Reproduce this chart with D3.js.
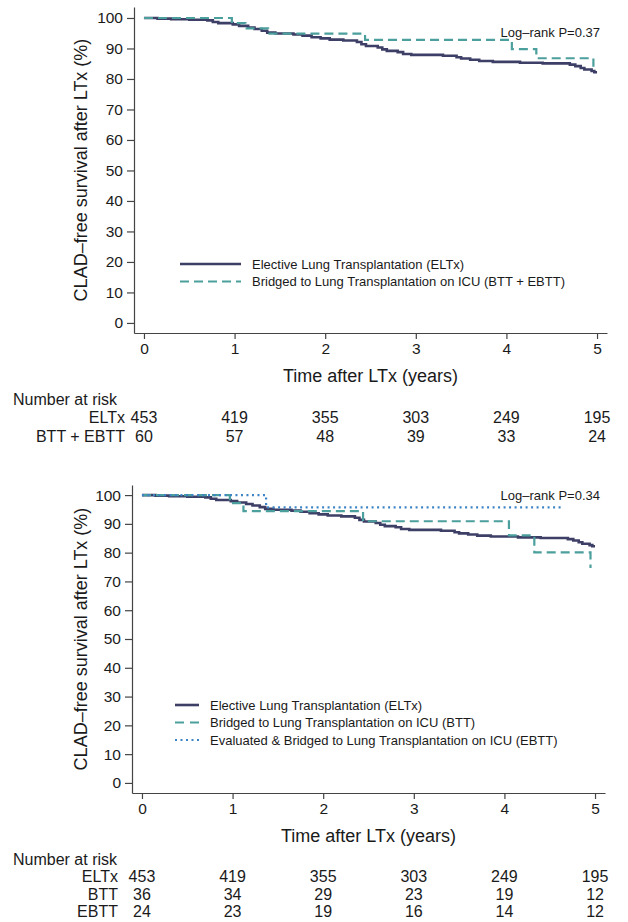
<!DOCTYPE html>
<html>
<head>
<meta charset="utf-8">
<script src="https://cdn.jsdelivr.net/npm/d3@7"></script>
<style>
  body { margin: 0; background: #fff; }
  svg { display: block; font-family: "Liberation Sans", Arial, sans-serif; }
  .axis path, .axis line { stroke: #444; stroke-width: 1.2; }
  .axis text { font-size: 15.5px; fill: #1a1a1a; }
</style>
</head>
<body>
<div id="chart"></div>
<script>
// tick labels
const xYears = [0, 1, 2, 3, 4, 5];
const yPercents = [0, 10, 20, 30, 40, 50, 60, 70, 80, 90, 100];

// Elective LTx (same curve in both panels)
const eltxTime = [0, 0.15, 0.3, 0.5, 0.7, 0.76, 0.82, 0.98, 1.05, 1.15, 1.22, 1.3, 1.36, 1.45, 1.65, 1.75, 1.85, 1.95, 2.05, 2.2, 2.35, 2.4, 2.45, 2.58, 2.63, 2.68, 2.8, 2.86, 2.95, 3.3, 3.45, 3.5, 3.6, 3.7, 3.85, 4.15, 4.4, 4.7, 4.76, 4.82, 4.86, 4.94, 4.97, 5.0];
const eltxSurv = [100, 99.8, 99.6, 99.4, 99.2, 98.7, 98.3, 97.9, 97.4, 96.9, 96.4, 95.8, 95.2, 94.9, 94.6, 94.2, 93.7, 93.3, 92.9, 92.6, 92.1, 91.4, 90.8, 90.3, 89.7, 89.2, 88.8, 88.2, 87.9, 87.6, 87.1, 86.7, 86.3, 85.9, 85.6, 85.3, 85.1, 84.7, 84.2, 83.6, 83.1, 82.6, 82.2, 82.2];

// BTT + EBTT combined (top panel)
const bttEbttTime = [0, 0.97, 1.12, 1.37, 2.44, 4.06, 4.33, 4.96, 4.96];
const bttEbttSurv = [100, 98.3, 96.6, 94.9, 92.8, 89.8, 86.8, 84.0, 84.0];

// BTT and EBTT separately (bottom panel)
const bttTime = [0, 0.97, 1.12, 2.44, 4.05, 4.33, 4.95, 4.95];
const bttSurv = [100, 97.2, 94.4, 90.9, 86.0, 80.1, 74.7, 74.7];
const ebttTime = [0, 1.37, 4.63];
const ebttSurv = [100, 95.7, 95.7];

// number at risk
const riskEltx = [453, 419, 355, 303, 249, 195];
const riskBttEbtt = [60, 57, 48, 39, 33, 24];
const riskBtt = [36, 34, 29, 23, 19, 12];
const riskEbtt = [24, 23, 19, 16, 14, 12];

const colors = { eltx: "#3d3f66", btt: "#4b9f9c", ebtt: "#3c84c6" };

const svg = d3.select("#chart").append("svg")
  .attr("width", 628)
  .attr("height", 922);

const toPoints = (t, s) => t.map((d, i) => [d, s[i]]);

function panel(opt) {
  const x = d3.scaleLinear().domain([-0.11, 5.11]).range(opt.xRange);
  const y = d3.scaleLinear().domain(opt.yDomain).range(opt.yRange);
  const g = svg.append("g");

  g.append("g")
    .attr("class", "axis")
    .attr("transform", `translate(${opt.xRange[0]},0)`)
    .call(d3.axisLeft(y).tickValues(yPercents).tickFormat(d3.format("d"))
      .tickSize(7).tickSizeOuter(0).tickPadding(4));

  g.append("g")
    .attr("class", "axis")
    .attr("transform", `translate(0,${opt.yRange[0]})`)
    .call(d3.axisBottom(x).tickValues(xYears).tickFormat(d3.format("d"))
      .tickSize(6).tickSizeOuter(0).tickPadding(4));

  g.append("text")
    .attr("transform", `translate(81,${(opt.yRange[0] + opt.yRange[1]) / 2}) rotate(-90)`)
    .attr("text-anchor", "middle")
    .attr("dy", "0.35em")
    .attr("font-size", 18)
    .attr("fill", "#1a1a1a")
    .text("CLAD\u2013free survival after LTx (%)");

  g.append("text")
    .attr("x", (opt.xRange[0] + opt.xRange[1]) / 2)
    .attr("y", opt.yRange[0] + 43)
    .attr("text-anchor", "middle")
    .attr("dy", "0.35em")
    .attr("font-size", 18)
    .attr("fill", "#1a1a1a")
    .text("Time after LTx (years)");

  const line = d3.line()
    .x((d) => x(d[0]))
    .y((d) => y(d[1]))
    .curve(d3.curveStepAfter);

  opt.series.forEach((s) => {
    g.append("path")
      .datum(toPoints(s.time, s.surv))
      .attr("fill", "none")
      .attr("stroke", s.color)
      .attr("stroke-width", s.width)
      .attr("stroke-dasharray", s.dash)
      .attr("d", line);
  });

  g.append("text")
    .attr("x", 600)
    .attr("y", opt.pY)
    .attr("text-anchor", "end")
    .attr("dy", "0.35em")
    .attr("font-size", 13)
    .attr("fill", "#1a1a1a")
    .text(opt.pText);

  // legend
  opt.series.forEach((s, i) => {
    const ly = opt.legend.y + i * opt.legend.step;
    g.append("line")
      .attr("x1", opt.legend.x1).attr("x2", opt.legend.x2)
      .attr("y1", ly).attr("y2", ly)
      .attr("stroke", s.color)
      .attr("stroke-width", s.width)
      .attr("stroke-dasharray", s.legendDash || s.dash);
    g.append("text")
      .attr("x", opt.legend.tx)
      .attr("y", ly)
      .attr("dy", "0.35em")
      .attr("font-size", 13)
      .attr("fill", "#1a1a1a")
      .text(s.label);
  });

  // number at risk table
  g.append("text")
    .attr("x", 13)
    .attr("y", opt.risk.y)
    .attr("dy", "0.35em")
    .attr("font-size", 16)
    .attr("fill", "#1a1a1a")
    .text("Number at risk");

  opt.risk.rows.forEach((r, i) => {
    const ry = opt.risk.y + (i + 1) * opt.risk.step;
    g.append("text")
      .attr("x", opt.risk.labelX)
      .attr("y", ry)
      .attr("dy", "0.35em")
      .attr("text-anchor", "end")
      .attr("font-size", 16)
      .attr("fill", "#1a1a1a")
      .text(r.label);
    g.selectAll(null)
      .data(r.values)
      .join("text")
      .attr("x", (d, j) => x(xYears[j]))
      .attr("y", ry)
      .attr("dy", "0.35em")
      .attr("text-anchor", "middle")
      .attr("font-size", 16)
      .attr("fill", "#1a1a1a")
      .text((d) => d);
  });
}

panel({
  xRange: [134, 607],
  yDomain: [-3.3, 103.6],
  yRange: [333, 7],
  pY: 32,
  pText: "Log\u2013rank P=0.37",
  series: [
    { time: eltxTime, surv: eltxSurv, color: colors.eltx, width: 2.6, dash: null,
      label: "Elective Lung Transplantation (ELTx)" },
    { time: bttEbttTime, surv: bttEbttSurv, color: colors.btt, width: 2.2, dash: "9,5",
      label: "Bridged to Lung Transplantation on ICU (BTT + EBTT)" },
  ],
  legend: { x1: 180, x2: 241, tx: 252, y: 264, step: 17.5 },
  risk: {
    y: 399, step: 18.5, labelX: 125,
    rows: [
      { label: "ELTx", values: riskEltx },
      { label: "BTT + EBTT", values: riskBttEbtt },
    ],
  },
});

panel({
  xRange: [132, 605],
  yDomain: [-3.5, 103.5],
  yRange: [793, 485],
  pY: 495,
  pText: "Log\u2013rank P=0.34",
  series: [
    { time: eltxTime, surv: eltxSurv, color: colors.eltx, width: 2.6, dash: null,
      label: "Elective Lung Transplantation (ELTx)" },
    { time: bttTime, surv: bttSurv, color: colors.btt, width: 2.2, dash: "9,5", legendDash: "9,6",
      label: "Bridged to Lung Transplantation on ICU (BTT)" },
    { time: ebttTime, surv: ebttSurv, color: colors.ebtt, width: 2.2, dash: "2,3.5",
      label: "Evaluated & Bridged to Lung Transplantation on ICU (EBTT)" },
  ],
  legend: { x1: 175, x2: 199, tx: 210, y: 705, step: 17.5 },
  risk: {
    y: 859, step: 17.6, labelX: 118,
    rows: [
      { label: "ELTx", values: riskEltx },
      { label: "BTT", values: riskBtt },
      { label: "EBTT", values: riskEbtt },
    ],
  },
});
</script>
</body>
</html>
